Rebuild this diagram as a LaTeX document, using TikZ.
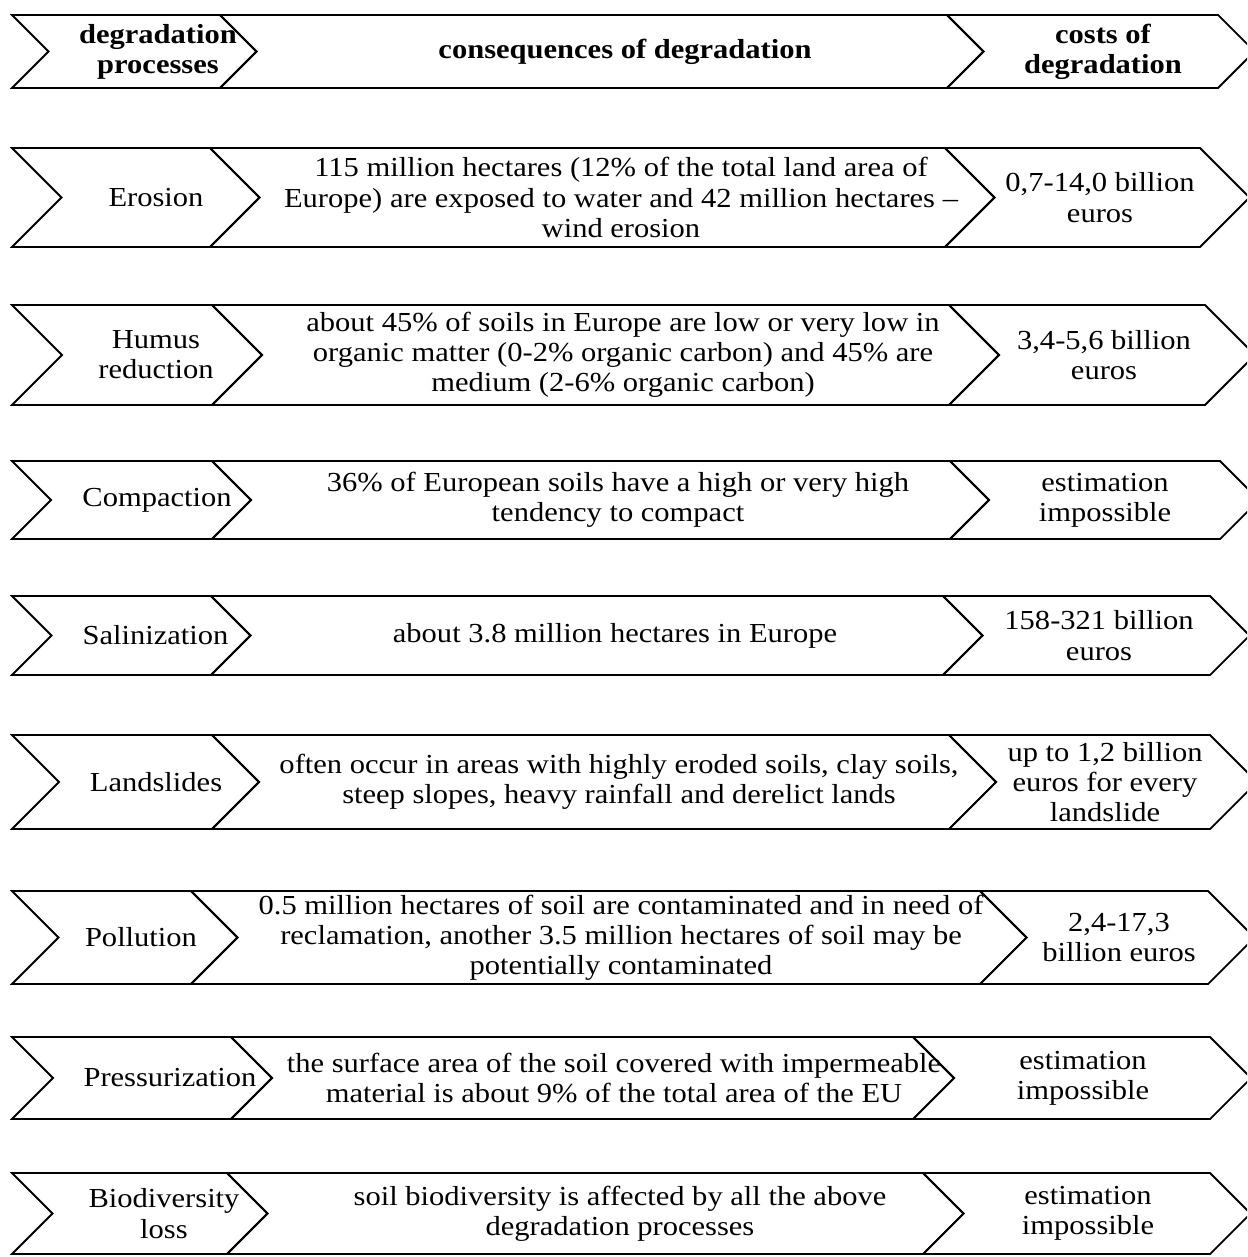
\documentclass[tikz,border=0pt]{standalone}
\usepackage{fontspec}
\setmainfont{Liberation Serif}[FakeStretch=1.11]
\tikzset{
  chev/.style={draw=black, line width=1.8pt, line join=miter},
  lbl/.style={align=center, inner sep=0pt, font=\fontsize{27.5}{30.2}\selectfont},
  hdr/.style={align=center, inner sep=0pt, font=\fontsize{27.5}{30.2}\selectfont\bfseries},
}
\newcommand\chevrow[5]{%
  \pgfmathsetmacro\chM{(#1+#2)/2}%
  \pgfmathsetmacro\chD{(#2-#1)/2}%
  \draw[chev] (12,#1) -- (#3,#1) -- (#3+\chD,\chM) -- (#3,#2) -- (12,#2) -- (12+\chD,\chM) -- cycle;
  \draw[chev] (#3,#1) -- (#4,#1) -- (#4+\chD,\chM) -- (#4,#2) -- (#3,#2) -- (#3+\chD,\chM) -- cycle;
  \draw[chev] (#4,#1) -- (#5,#1) -- (#5+\chD,\chM) -- (#5,#2) -- (#4,#2) -- (#4+\chD,\chM) -- cycle;
}
\begin{document}
\begin{tikzpicture}[x=1pt,y=-1pt]
\useasboundingbox (0,0) rectangle (1247,1257);
\clip (0,0) rectangle (1247,1257);
\fill[white] (0,0) rectangle (1247,1257);
% rows: top, bottom, x1, x2, x3
\chevrow{15}{88}{220}{947}{1218}
\chevrow{148}{247}{210}{945}{1200}
\chevrow{305}{405}{212}{949}{1205}
\chevrow{461}{539}{212}{950}{1220}
\chevrow{596}{675}{211}{943}{1210}
\chevrow{735}{829}{212}{949}{1210}
\chevrow{891}{984}{191}{980}{1208}
\chevrow{1037}{1119}{231}{913}{1210}
\chevrow{1173}{1254}{227}{923}{1210}
% header
\node[hdr] (h1) at (158,51.5) {degradation\\processes};
\node[hdr] (h2) at (625,51.5) {consequences of degradation};
\node[hdr] (h3) at (1103,51.5) {costs of\\degradation};
% erosion
\node[lbl] (r1a) at (156,197.5) {Erosion};
\node[lbl] (r1b) at (621,197.5) {115 million hectares (12\% of the total land area of\\Europe) are exposed to water and 42 million hectares –\\wind erosion};
\node[lbl] (r1c) at (1100,197.5) {0,7-14,0 billion\\euros};
% humus
\node[lbl] (r2a) at (156,355) {Humus\\reduction};
\node[lbl] (r2b) at (623,355) {about 45\% of soils in Europe are low or very low in\\organic matter (0-2\% organic carbon) and 45\% are\\medium (2-6\% organic carbon)};
\node[lbl] (r2c) at (1104,355) {3,4-5,6 billion\\euros};
% compaction
\node[lbl] (r3a) at (157,500) {Compaction};
\node[lbl] (r3b) at (618,500) {36\% of European soils have a high or very high\\tendency to compact};
\node[lbl] (r3c) at (1105,500) {estimation\\impossible};
% salinization
\node[lbl] (r4a) at (155.5,635.5) {Salinization};
\node[lbl] (r4b) at (615,635.5) {about 3.8 million hectares in Europe};
\node[lbl] (r4c) at (1099,635.5) {158-321 billion\\euros};
% landslides
\node[lbl] (r5a) at (156,782) {Landslides};
\node[lbl] (r5b) at (619,782) {often occur in areas with highly eroded soils, clay soils,\\steep slopes, heavy rainfall and derelict lands};
\node[lbl] (r5c) at (1105,782) {up to 1,2 billion\\euros for every\\landslide};
% pollution
\node[lbl] (r6a) at (141,937.5) {Pollution};
\node[lbl] (r6b) at (621,937.5) {0.5 million hectares of soil are contaminated and in need of\\reclamation, another 3.5 million hectares of soil may be\\potentially contaminated};
\node[lbl] (r6c) at (1119,937.5) {2,4-17,3\\billion euros};
% pressurization
\node[lbl] (r7a) at (170,1078) {Pressurization};
\node[lbl] (r7b) at (614,1078) {the surface area of the soil covered with impermeable\\material is about 9\% of the total area of the EU};
\node[lbl] (r7c) at (1083,1078) {estimation\\impossible};
% biodiversity
\node[lbl] (r8a) at (164,1213.5) {Biodiversity\\loss};
\node[lbl] (r8b) at (620,1213.5) {soil biodiversity is affected by all the above\\degradation processes};
\node[lbl] (r8c) at (1088,1213.5) {estimation\\impossible};
\end{tikzpicture}
\end{document}
